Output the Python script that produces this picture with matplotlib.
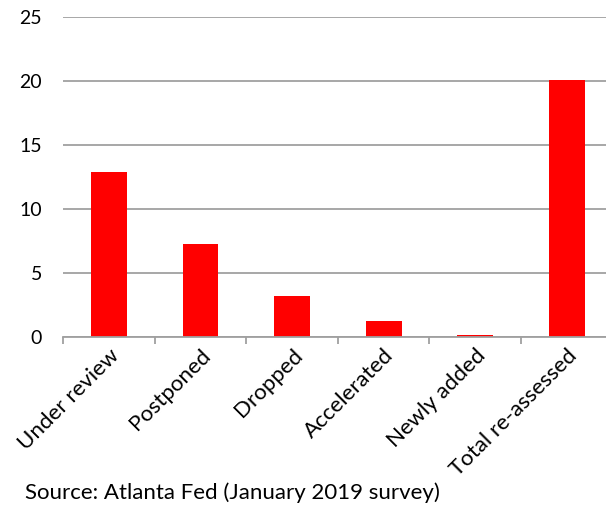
import matplotlib
matplotlib.use("Agg")
import matplotlib.pyplot as plt
import numpy as np

categories = ["Under review", "Postponed", "Dropped", "Accelerated", "Newly added", "Total re-assessed"]
values = [12.9, 7.3, 3.2, 1.3, 0.2, 20.1]
yticks = [0, 5, 10, 15, 20, 25]

plt.rcParams['font.family'] = ['Lato', 'DejaVu Sans']

fig = plt.figure(figsize=(6.06, 5.07), dpi=100)
ax = fig.add_axes([0.104, 0.335, 0.907, 0.631])
x = np.arange(len(categories))
ax.bar(x, values, width=0.39, color='#ff0000', zorder=3)
ax.set_xlim(-0.5, len(categories) - 0.5)
ax.set_ylim(0, 25)
ax.set_yticks(yticks)
ax.set_yticklabels([str(t) for t in yticks], fontsize=14)
ax.tick_params(axis='y', length=0, pad=15)
ax.yaxis.grid(True, color='#a0a0a0', linewidth=1.3, zorder=0)
ax.set_axisbelow(True)
for s in ['top', 'right', 'left']:
    ax.spines[s].set_visible(False)
ax.spines['bottom'].set_color('#a0a0a0')
ax.spines['bottom'].set_linewidth(1.3)
ax.spines['bottom'].set_zorder(4)
ax.set_xticks(x)
ax.set_xticklabels(categories, rotation=45, ha='right', rotation_mode='anchor', fontsize=16)
ax.tick_params(axis='x', which='major', length=0, pad=6)
ax.set_xticks(np.arange(len(categories)) - 0.5, minor=True)
ax.tick_params(axis='x', which='minor', length=5, color='#a0a0a0', width=1.3)

fig.text(0.041, 0.015, "Source: Atlanta Fed (January 2019 survey)", fontsize=16, ha='left', va='baseline')

fig.savefig("out.png", dpi=100)
